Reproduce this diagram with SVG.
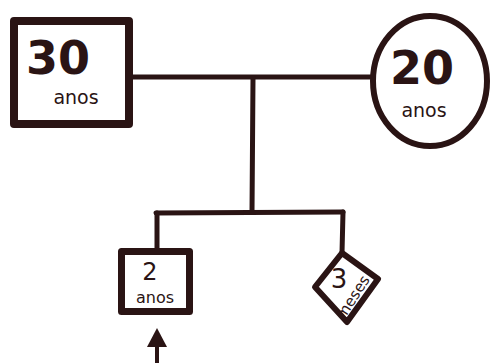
<svg xmlns="http://www.w3.org/2000/svg" width="490" height="363" viewBox="0 0 490 363">
<defs>
<style>
.ln{stroke:#2a1414;fill:none;stroke-linecap:round;stroke-linejoin:round}
.big{font-family:"DejaVu Sans",sans-serif;font-weight:bold;fill:#2a1414;text-anchor:middle}
.mid{font-family:"DejaVu Sans",sans-serif;fill:#2a1414;text-anchor:middle}
.sm{font-family:"DejaVu Sans",sans-serif;fill:#2a1414;text-anchor:middle}
</style>
<marker id="ah" markerWidth="20" markerHeight="20" refX="7" refY="10" orient="auto" markerUnits="userSpaceOnUse">
<path d="M0,0 L19,10 L0,20 Z" fill="#2a1414"/>
</marker>
</defs>
<rect width="490" height="363" fill="#ffffff"/>
<g id="connectors">
<line class="ln" x1="133" y1="77" x2="373" y2="77" stroke-width="5"/>
<line class="ln" x1="253" y1="78" x2="252" y2="212" stroke-width="5"/>
<line class="ln" x1="156" y1="213" x2="343" y2="212" stroke-width="5"/>
<line class="ln" x1="157" y1="213" x2="157" y2="249" stroke-width="5"/>
<line class="ln" x1="343" y1="212" x2="342" y2="253" stroke-width="5"/>
<line class="ln" x1="157" y1="365" x2="157" y2="340" stroke-width="4" stroke-linecap="butt" marker-end="url(#ah)"/>
</g>
<g id="father">
<rect class="ln" x="14" y="21" width="115" height="103" stroke-width="8"/>
<text class="big" x="58" y="74" font-size="46">30</text>
<text class="sm" x="76" y="104" font-size="19">anos</text>
</g>
<g id="mother">
<ellipse class="ln" cx="430" cy="81" rx="57" ry="65" stroke-width="6"/>
<text class="big" x="422" y="84" font-size="46">20</text>
<text class="sm" x="424" y="117" font-size="19">anos</text>
</g>
<g id="son">
<rect class="ln" x="121.5" y="251.5" width="68" height="60" stroke-width="7"/>
<text class="mid" x="150" y="280" font-size="24">2</text>
<text class="sm" x="155" y="303" font-size="16">anos</text>
</g>
<g id="baby">
<polygon class="ln" points="342,253 378,279 347,322 315,287" stroke-width="6"/>
<text class="mid" x="339" y="288" font-size="26">3</text>
<text class="sm" x="0" y="0" font-size="15" transform="translate(357,300) rotate(-57)">meses</text>
</g>
</svg>
